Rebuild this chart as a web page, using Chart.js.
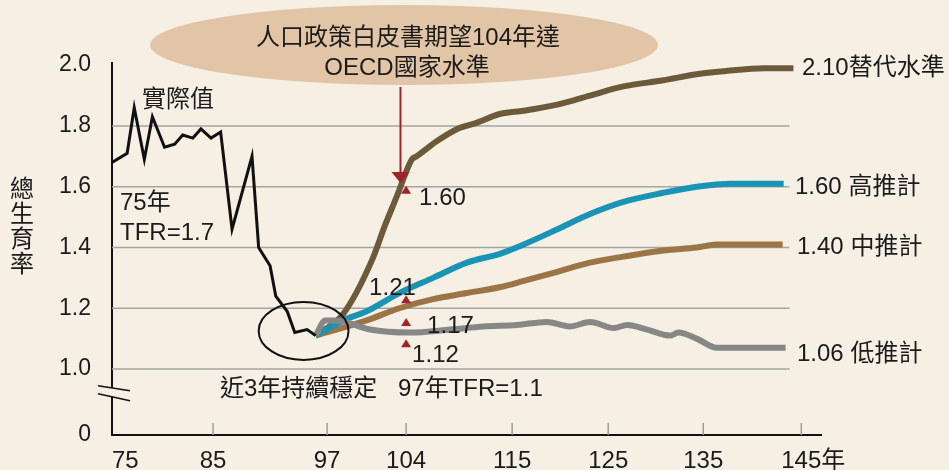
<!DOCTYPE html>
<html><head><meta charset="utf-8">
<script src="https://cdn.jsdelivr.net/npm/chart.js@4.4.1/dist/chart.umd.min.js"></script>
<style>html,body{margin:0;padding:0;background:#f6efe4;}#wrap{width:949px;height:470px;position:relative;}</style>
</head><body><div id="wrap"><canvas id="c" width="949" height="470"></canvas></div>
<script>
// ---------- data ----------
const actualYears  = [75.0,76.5,77.2,78.2,79.0,80.2,81.2,82.0,83.0,83.8,84.8,85.8,87.0,89.1,89.8,91.0,91.6,92.8,93.6,94.9,95.8];
const actualValues = [1.68,1.71,1.86,1.69,1.83,1.73,1.74,1.77,1.76,1.79,1.76,1.78,1.46,1.70,1.40,1.34,1.24,1.19,1.12,1.13,1.11];

const replYears  = [95.8,98.4,101.0,102.1,103.3,103.8,104.6,105.1,107.2,109.3,111.3,113.8,116.2,119.7,123.1,126.6,130.8,134.3,137.1,141.2,144.2];
const replValues = [1.11,1.18,1.36,1.47,1.58,1.63,1.69,1.70,1.75,1.79,1.81,1.84,1.85,1.87,1.90,1.93,1.95,1.97,1.98,1.99,1.99];

const highYears  = [95.8,98.4,100.5,103.4,106.8,110.3,113.8,116.2,119.7,123.1,126.6,130.8,134.3,137.8,141.2,143.2];
const highValues = [1.11,1.16,1.19,1.25,1.30,1.35,1.38,1.41,1.46,1.51,1.55,1.58,1.60,1.61,1.61,1.61];

const midYears  = [95.8,100.5,103.4,106.8,110.3,113.8,116.2,119.7,123.1,126.6,130.8,134.3,136.4,143.1];
const midValues = [1.11,1.16,1.20,1.23,1.25,1.27,1.29,1.32,1.35,1.37,1.39,1.40,1.41,1.41];

const lowYears  = [95.8,96.8,97.6,98.6,100.8,104.4,108.6,112.0,115.5,118.6,121.0,123.1,125.6,127.0,129.1,131.5,132.4,134.3,136.4,143.4];
const lowValues = [1.11,1.16,1.16,1.155,1.13,1.12,1.13,1.14,1.145,1.155,1.14,1.155,1.135,1.145,1.13,1.11,1.12,1.10,1.07,1.07];

const markerYear   = 104;
const markerValues = [1.59, 1.23, 1.155, 1.085];
const markerLabels = ['1.60', '1.21', '1.17', '1.12'];

const arrowYear = 103.5;
const arrowTipValue = 1.612;

const Y_MIN = 0.783, Y_MAX = 2.007;
const yTickValues = [Y_MIN, 1.0, 1.2, 1.4, 1.6, 1.8, 2.0];
const yTickLabels = ['0', '1.0', '1.2', '1.4', '1.6', '1.8', '2.0'];
const yGridValues = [1.0, 1.2, 1.4, 1.6, 1.8];
const xTickValues = [75, 85, 97, 104, 115, 125, 135, 145];
const xTickLabels = ['75', '85', '97', '104', '115', '125', '135', '145'];
const xUnit = '年';
const gridEndYear = 143.8;

// hand-drawn (non-uniform) year axis: knot years and their relative positions
const xKnotValues    = [75, 85, 97, 104, 115, 125, 135, 145, 147];
const xKnotPositions = [0, 101, 215, 294, 400, 496, 591, 689, 708.7];

// ---------- piecewise scale ----------
class PiecewiseScale extends Chart.LinearScale {
  _frac(v) {
    const ky = xKnotValues, kp = xKnotPositions, total = kp[kp.length - 1];
    let i = 0;
    while (i < ky.length - 2 && v > ky[i + 1]) i++;
    const t = (v - ky[i]) / (ky[i + 1] - ky[i]);
    return (kp[i] + t * (kp[i + 1] - kp[i])) / total;
  }
  getPixelForValue(v) {
    if (v === null || v === undefined || isNaN(v)) return NaN;
    return this.left + this._frac(v) * this.width;
  }
  getValueForPixel(p) {
    const ky = xKnotValues, kp = xKnotPositions, total = kp[kp.length - 1];
    const f = (p - this.left) / this.width * total;
    let i = 0;
    while (i < kp.length - 2 && f > kp[i + 1]) i++;
    return ky[i] + (f - kp[i]) / (kp[i + 1] - kp[i]) * (ky[i + 1] - ky[i]);
  }
}
PiecewiseScale.id = 'piecewise';
PiecewiseScale.defaults = Chart.LinearScale.defaults;
Chart.register(PiecewiseScale);

const FONT = '"Liberation Sans", "Noto Sans CJK TC", sans-serif';
const TEXT = '#1b1b1b';
const RED = '#a0222a';
const BG = '#f6efe4';

function pts(xs, ys) { return xs.map((x, i) => ({ x: x, y: ys[i] })); }

function txt(ctx, s, x, cy, align, size) {
  ctx.font = (size || 24) + 'px ' + FONT;
  ctx.textAlign = align || 'left';
  ctx.textBaseline = 'alphabetic';
  ctx.fillText(s, x, cy + 0.36 * (size || 24));
}

const deco = {
  id: 'deco',
  beforeDatasetsDraw(chart) {
    const { ctx, chartArea: a, scales: { x, y } } = chart;
    ctx.save();
    ctx.strokeStyle = '#a4a4a4'; ctx.lineWidth = 1.5;
    const xe = x.getPixelForValue(gridEndYear);
    yGridValues.forEach(v => {
      const py = y.getPixelForValue(v);
      ctx.beginPath(); ctx.moveTo(a.left, py); ctx.lineTo(xe, py); ctx.stroke();
    });
    ctx.strokeStyle = '#9c9c9c';
    xTickValues.slice(1).forEach(v => {
      const px = x.getPixelForValue(v);
      ctx.beginPath(); ctx.moveTo(px, a.bottom); ctx.lineTo(px, a.bottom - 12); ctx.stroke();
    });
    ctx.restore();
  },
  afterDraw(chart) {
    const { ctx, chartArea: a, scales: { x, y } } = chart;
    ctx.save();
    ctx.fillStyle = TEXT;

    // axis break
    const yc = y.getPixelForValue(0.925);
    ctx.fillStyle = BG;
    ctx.fillRect(a.left - 3, yc - 4, 6, 9);
    ctx.strokeStyle = '#111'; ctx.lineWidth = 1.5;
    ctx.beginPath(); ctx.moveTo(a.left - 14, yc - 6); ctx.lineTo(a.left + 18, yc - 1); ctx.stroke();
    ctx.beginPath(); ctx.moveTo(a.left - 14, yc + 2); ctx.lineTo(a.left + 18, yc + 9); ctx.stroke();

    // ellipse around recent years
    const ex0 = x.getPixelForValue(89.8), ex1 = x.getPixelForValue(98.9);
    const ey0 = y.getPixelForValue(1.221), ey1 = y.getPixelForValue(1.030);
    ctx.strokeStyle = '#111'; ctx.lineWidth = 2;
    ctx.beginPath();
    ctx.ellipse((ex0 + ex1) / 2, (ey0 + ey1) / 2, (ex1 - ex0) / 2, (ey1 - ey0) / 2, 0, 0, Math.PI * 2);
    ctx.stroke();

    // callout
    ctx.fillStyle = '#e2c4a7';
    ctx.beginPath(); ctx.ellipse(404, 45, 254, 40, 0, 0, Math.PI * 2); ctx.fill();
    ctx.fillStyle = TEXT;
    txt(ctx, '人口政策白皮書期望104年達', 408, 36, 'center');
    txt(ctx, 'OECD國家水準', 407, 66, 'center');

    // arrow
    const ax = x.getPixelForValue(arrowYear), tip = y.getPixelForValue(arrowTipValue);
    ctx.strokeStyle = RED; ctx.fillStyle = RED; ctx.lineWidth = 2;
    ctx.beginPath(); ctx.moveTo(ax, 87); ctx.lineTo(ax, tip - 8); ctx.stroke();
    ctx.beginPath(); ctx.moveTo(ax - 9, tip - 11); ctx.lineTo(ax + 9, tip - 11); ctx.lineTo(ax, tip); ctx.closePath(); ctx.fill();

    // markers
    const mx = x.getPixelForValue(markerYear);
    const offs = [[13, 7, 'left'], [-37, -13, 'left'], [21, 2, 'left'], [6, 10, 'left']];
    markerValues.forEach((v, i) => {
      const my = y.getPixelForValue(v);
      ctx.fillStyle = RED;
      ctx.beginPath(); ctx.moveTo(mx - 5, my + 4); ctx.lineTo(mx + 5, my + 4); ctx.lineTo(mx, my - 4); ctx.closePath(); ctx.fill();
      ctx.fillStyle = TEXT;
      txt(ctx, markerLabels[i], mx + offs[i][0], my + offs[i][1], offs[i][2]);
    });

    // text labels
    ctx.fillStyle = TEXT;
    txt(ctx, '實際值', 142, 98);
    txt(ctx, '75年', 120, 201);
    txt(ctx, 'TFR=1.7', 120, 231);
    txt(ctx, '近3年持續穩定', 220, 387);
    txt(ctx, '97年TFR=1.1', 398, 387);
    txt(ctx, '2.10替代水準', 802, 66);
    txt(ctx, '1.60 高推計', 795, 185);
    txt(ctx, '1.40 中推計', 797, 245);
    txt(ctx, '1.06 低推計', 797, 352);

    // x tick labels
    const ly = a.bottom + 24;
    xTickValues.forEach((v, i) => {
      const px = x.getPixelForValue(v);
      if (i === 0) { txt(ctx, xTickLabels[i], px, ly, 'left'); return; }
      txt(ctx, xTickLabels[i], px, ly, 'center');
      if (i === xTickValues.length - 1) {
        ctx.font = '24px ' + FONT;
        const w = ctx.measureText(xTickLabels[i]).width;
        txt(ctx, xUnit, px + w / 2, ly, 'left');
      }
    });

    // y title (vertical stacked)
    ['總', '生', '育', '率'].forEach((c, i) => txt(ctx, c, 22, 188 + i * 25, 'center'));
    ctx.restore();
  }
};

const common = { pointRadius: 0, fill: false, borderCapStyle: 'butt' };
const smooth = { tension: 0.4, cubicInterpolationMode: 'monotone' };

new Chart(document.getElementById('c'), {
  type: 'line',
  data: {
    datasets: [
      Object.assign({ label: '實際值', data: pts(actualYears, actualValues), borderColor: '#111111', borderWidth: 3, borderJoinStyle: 'miter', tension: 0, order: 0 }, common),
      Object.assign({ label: '低推計', data: pts(lowYears, lowValues), borderColor: '#878787', borderWidth: 6, order: 1 }, common, smooth),
      Object.assign({ label: '高推計', data: pts(highYears, highValues), borderColor: '#1a94b6', borderWidth: 6, order: 2 }, common, smooth),
      Object.assign({ label: '中推計', data: pts(midYears, midValues), borderColor: '#9c7546', borderWidth: 6, order: 3 }, common, smooth),
      Object.assign({ label: '替代水準', data: pts(replYears, replValues), borderColor: '#6d5a3a', borderWidth: 6, order: 4 }, common, smooth)
    ]
  },
  options: {
    responsive: false,
    animation: false,
    devicePixelRatio: 1,
    events: [],
    layout: { padding: { left: 32, right: 128, top: 63, bottom: 35 } },
    plugins: { legend: { display: false }, tooltip: { enabled: false } },
    scales: {
      x: {
        type: 'piecewise', min: 75, max: 147,
        afterBuildTicks: s => { s.ticks = xTickValues.map(v => ({ value: v })); },
        afterFit: s => { s.height = 0; },
        ticks: { display: false },
        grid: { display: false },
        border: { display: true, color: '#111', width: 2 }
      },
      y: {
        type: 'linear', min: Y_MIN, max: Y_MAX,
        afterBuildTicks: s => { s.ticks = yTickValues.map(v => ({ value: v })); },
        afterFit: s => { s.width = 80; },
        ticks: {
          padding: 13, color: TEXT, font: { family: FONT, size: 23 },
          callback: (v, i) => yTickLabels[i]
        },
        grid: { display: false },
        border: { display: true, color: '#111', width: 2 }
      }
    }
  },
  plugins: [deco]
});
</script>
</body></html>
